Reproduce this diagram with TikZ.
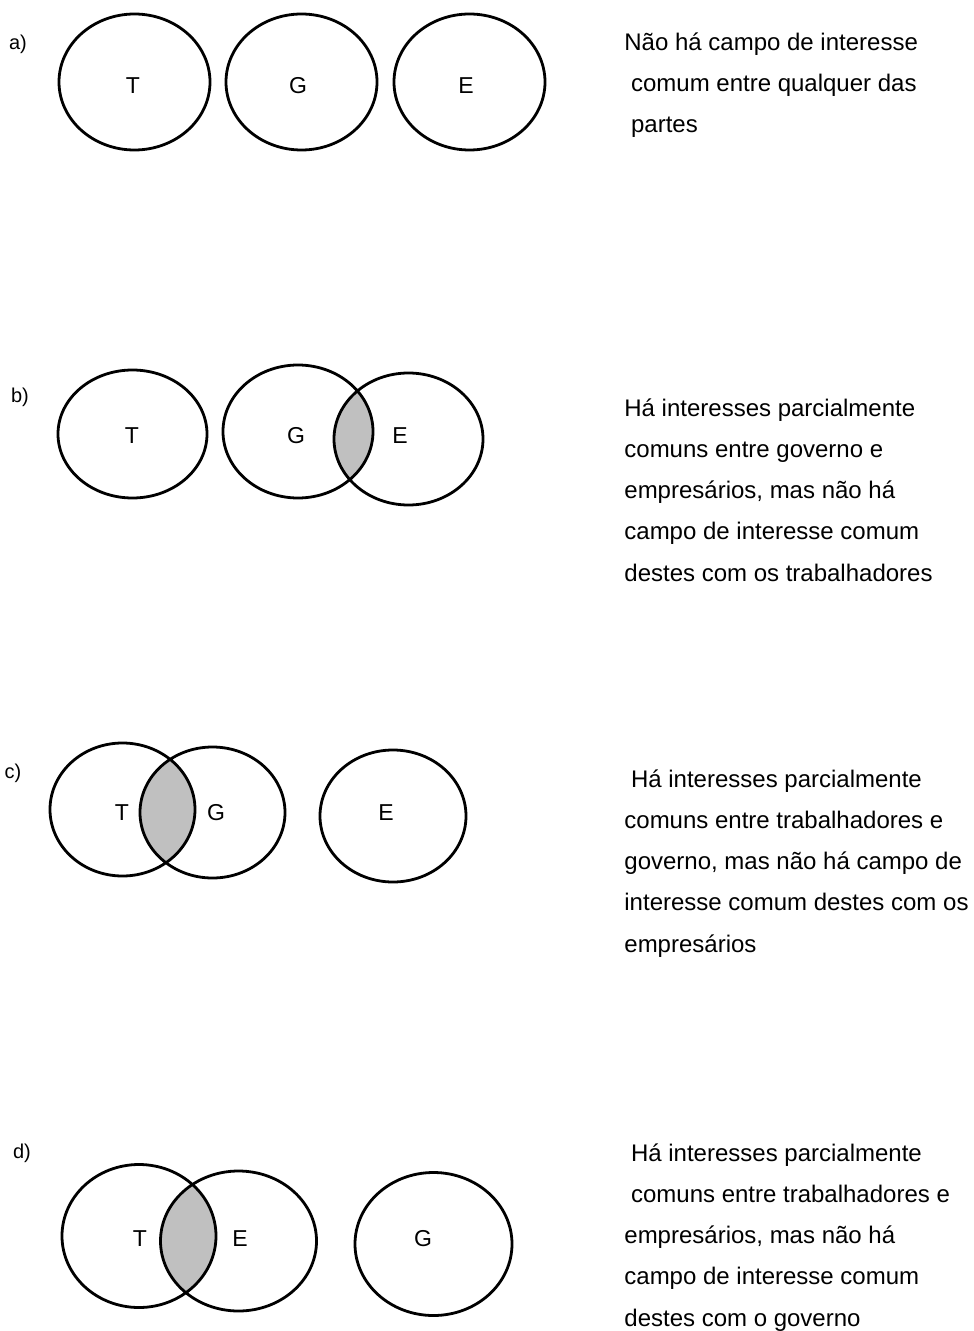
\documentclass[tikz,border=0pt]{standalone}
\usepackage{fontspec}
\setmainfont{Liberation Sans}
\usetikzlibrary{positioning}
\definecolor{lensgray}{RGB}{192,192,192}
\newcommand{\padsp}{\hspace*{0.278em}}

\begin{document}
\begin{tikzpicture}[x=0.5pt, y=-0.5pt, line width=1.4pt,
    party/.style={font=\fontsize{11.5}{14}\selectfont},
    item/.style={font=\fontsize{10}{12}\selectfont},
    note/.style={anchor=base west, align=left, inner sep=0pt, font=\fontsize{12}{20.6}\selectfont}]
\useasboundingbox (0, 0) rectangle (973, 1331);

% a) no overlap
\node[item] (la) at (18, 44) {a)};
\draw (134.5, 82) ellipse [x radius=37.75pt, y radius=34pt]
      (301.5, 82) ellipse [x radius=37.75pt, y radius=34pt]
      (469.5, 82) ellipse [x radius=37.75pt, y radius=34pt];
\node[party] (aT) at (133, 86) {T};
\node[party] (aG) at (298, 86) {G};
\node[party] (aE) at (466, 86) {E};
% note nodes sit on the baseline of their last line
\node[note] (ta) at (623, 132.5) {Não há campo de interesse\\
    \padsp comum entre qualquer das\\
    \padsp partes};

% b) G and E
\node[item] (lb) at (20, 397) {b)};
\begin{scope}
\clip (298, 431.5) ellipse [x radius=37.5pt, y radius=33.25pt];
\fill[lensgray] (408.5, 439) ellipse [x radius=37.25pt, y radius=33pt];
\end{scope}
\draw (132.5, 434) ellipse [x radius=37.25pt, y radius=32pt]
      (298, 431.5) ellipse [x radius=37.5pt, y radius=33.25pt]
      (408.5, 439) ellipse [x radius=37.25pt, y radius=33pt];
\node[party] (bT) at (132, 436) {T};
\node[party] (bG) at (296, 436) {G};
\node[party] (bE) at (400, 436) {E};
\node[note] (tb) at (623, 581) {Há interesses parcialmente\\
    comuns entre governo e\\
    empresários, mas não há\\
    campo de interesse comum\\
    destes com os trabalhadores};

% c) T and G
\node[item] (lc) at (13, 773) {c)};
\begin{scope}
\clip (122.5, 809.5) ellipse [x radius=36.25pt, y radius=33.25pt];
\fill[lensgray] (212.5, 812.5) ellipse [x radius=36.25pt, y radius=32.75pt];
\end{scope}
\draw (122.5, 809.5) ellipse [x radius=36.25pt, y radius=33.25pt]
      (212.5, 812.5) ellipse [x radius=36.25pt, y radius=32.75pt]
      (393, 816) ellipse [x radius=36.5pt, y radius=33pt];
\node[party] (cT) at (122, 813) {T};
\node[party] (cG) at (216, 813) {G};
\node[party] (cE) at (386, 813) {E};
\node[note] (tc) at (623, 952) {\padsp Há interesses parcialmente\\
    comuns entre trabalhadores e\\
    governo, mas não há campo de\\
    interesse comum destes com os\\
    empresários};

% d) T and E
\node[item] (ld) at (22, 1153) {d)};
\begin{scope}
\clip (139, 1236) ellipse [x radius=38.5pt, y radius=35.75pt];
\fill[lensgray] (238.5, 1241) ellipse [x radius=39pt, y radius=35pt];
\end{scope}
\draw (139, 1236) ellipse [x radius=38.5pt, y radius=35.75pt]
      (238.5, 1241) ellipse [x radius=39pt, y radius=35pt]
      (433.5, 1244) ellipse [x radius=39.25pt, y radius=35.75pt];
\node[party] (dT) at (140, 1239) {T};
\node[party] (dE) at (240, 1239) {E};
\node[party] (dG) at (423, 1239) {G};
\node[note] (td) at (623, 1326) {\padsp Há interesses parcialmente\\
    \padsp comuns entre trabalhadores e\\
    empresários, mas não há\\
    campo de interesse comum\\
    destes com o governo};
\end{tikzpicture}
\end{document}
